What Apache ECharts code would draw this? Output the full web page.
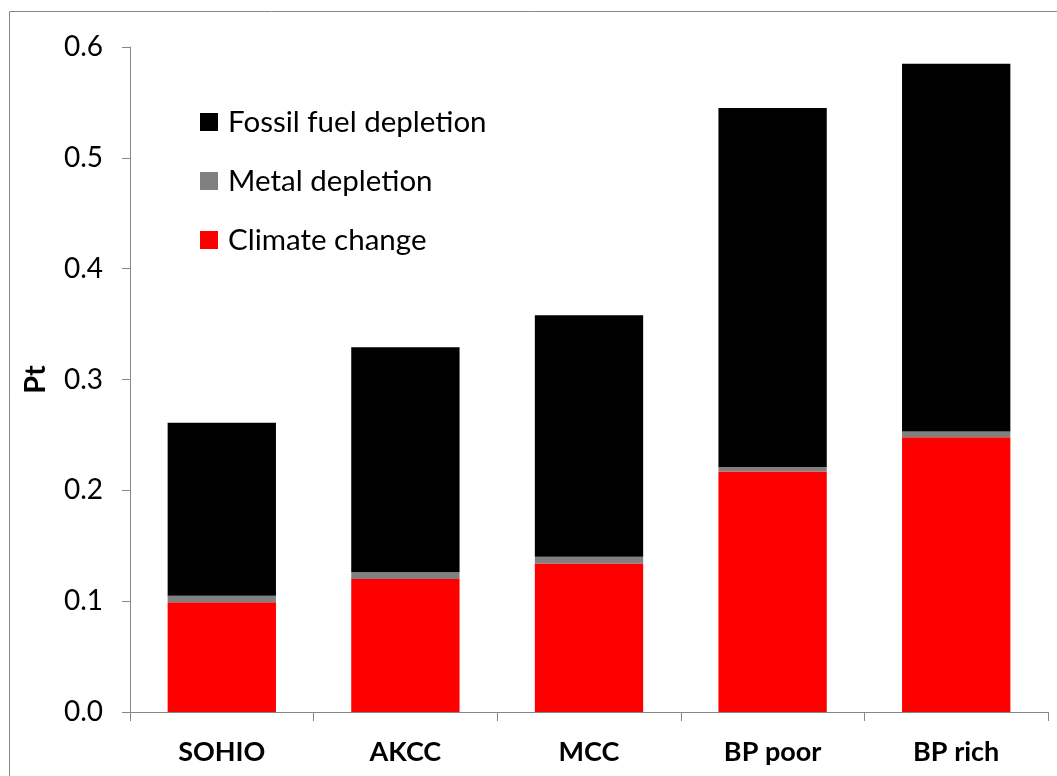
<!DOCTYPE html>
<html>
<head>
<meta charset="utf-8">
<script src="https://cdn.jsdelivr.net/npm/echarts@6/dist/echarts.min.js"></script>
<style>
  html, body { margin: 0; padding: 0; background: #fff; }
  #chart { width: 1057px; height: 776px; }
</style>
</head>
<body>
<div id="chart"></div>
<script>
// Processes compared
const categories = ['SOHIO', 'AKCC', 'MCC', 'BP poor', 'BP rich'];
// Impact contributions (Pt), stacked bottom to top
const climateChange = [0.099, 0.120, 0.134, 0.217, 0.248];
const metalDepletion = [0.006, 0.006, 0.006, 0.004, 0.005];
const fossilFuelDepletion = [0.156, 0.203, 0.218, 0.324, 0.332];
const yTicks = { min: 0, max: 0.6, interval: 0.1 };

const fontFamily = 'Lato, "Open Sans", sans-serif';
const axisGray = '#868686';

const chart = echarts.init(document.getElementById('chart'), null, { renderer: 'canvas' });

function barSeries(name, data, color) {
  return {
    name: name,
    type: 'bar',
    stack: 'total',
    data: data,
    barWidth: '59%',
    itemStyle: { color: color },
    emphasis: { disabled: true }
  };
}

chart.setOption({
  animation: false,
  backgroundColor: '#fff',
  graphic: [{
    type: 'rect',
    shape: { x: 9.5, y: 11.5, width: 1100, height: 800 },
    style: { fill: 'none', stroke: axisGray, lineWidth: 1 },
    silent: true,
    z: -1
  }],
  grid: { left: 130, right: 9, top: 47, bottom: 64, containLabel: false },
  legend: {
    orient: 'vertical',
    left: 200,
    top: 107,
    padding: 0,
    itemWidth: 18,
    itemHeight: 18,
    itemGap: 29,
    icon: 'rect',
    data: ['Fossil fuel depletion', 'Metal depletion', 'Climate change'],
    textStyle: { fontFamily: fontFamily, fontSize: 29.5, color: '#000', padding: [0, 0, 0, 5] },
    selectedMode: false
  },
  xAxis: {
    type: 'category',
    data: categories,
    axisLine: { lineStyle: { color: axisGray, width: 1 } },
    axisTick: { show: true, inside: false, length: 9, alignWithLabel: false, lineStyle: { color: axisGray } },
    axisLabel: { fontFamily: fontFamily, fontSize: 27, fontWeight: 'bold', color: '#000', margin: 27 }
  },
  yAxis: {
    type: 'value',
    min: yTicks.min,
    max: yTicks.max,
    interval: yTicks.interval,
    name: 'Pt',
    nameLocation: 'middle',
    nameGap: 80,
    nameRotate: 90,
    nameTextStyle: { fontFamily: fontFamily, fontSize: 29, fontWeight: 'bold', color: '#000' },
    axisLine: { show: true, lineStyle: { color: axisGray, width: 1 } },
    axisTick: { show: true, inside: false, length: 8, lineStyle: { color: axisGray } },
    splitLine: { show: false },
    axisLabel: {
      fontFamily: fontFamily, fontSize: 28, color: '#000', margin: 27,
      formatter: v => v.toFixed(1)
    }
  },
  series: [
    barSeries('Climate change', climateChange, '#ff0000'),
    barSeries('Metal depletion', metalDepletion, '#808080'),
    barSeries('Fossil fuel depletion', fossilFuelDepletion, '#000000')
  ]
});
</script>
</body>
</html>
